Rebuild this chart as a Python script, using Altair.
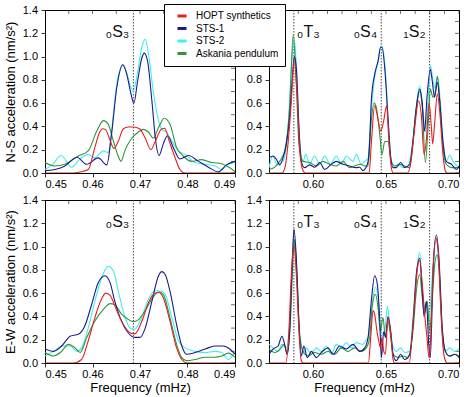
import altair as alt
import pandas as pd

FONT = "Liberation Sans"

SERIES = ["HOPT synthetics", "STS-1", "STS-2", "Askania pendulum"]
COLORS = ["#e3201f", "#1b1b8c", "#42ecf0", "#2f953a"]
# later entries are painted on top
DRAW_ORDER = ["STS-2", "Askania pendulum", "STS-1", "HOPT synthetics"]

# ---------------- N-S component, 0.45-0.49 mHz ----------------
ns_lo_hopt = [(0.4500, 0.0), (0.4560, 0.0), (0.4575, 0.01), (0.4591, 0.03), (0.4605, 0.22),
              (0.4615, 0.35), (0.4621, 0.38), (0.4628, 0.37), (0.4637, 0.28), (0.4645, 0.21),
              (0.4654, 0.27), (0.4665, 0.38), (0.4675, 0.395), (0.4686, 0.395), (0.4699, 0.38),
              (0.4711, 0.30), (0.4723, 0.20), (0.4732, 0.27), (0.4746, 0.38), (0.4752, 0.385),
              (0.4761, 0.28), (0.4774, 0.13), (0.4784, 0.03), (0.4795, 0.0), (0.4900, 0.0)]
ns_lo_sts1 = [(0.4500, 0.02), (0.4521, 0.03), (0.4542, 0.06), (0.4567, 0.135), (0.4588, 0.075),
              (0.4612, 0.13), (0.4630, 0.07), (0.4640, 0.33), (0.4651, 0.73), (0.4664, 0.93),
              (0.4672, 0.85), (0.4681, 0.68), (0.4687, 0.60), (0.4695, 0.79), (0.4704, 0.99),
              (0.4709, 1.03), (0.4716, 0.96), (0.4725, 0.62), (0.4733, 0.275), (0.4740, 0.15),
              (0.4749, 0.25), (0.4758, 0.32), (0.4770, 0.22), (0.4784, 0.12), (0.4802, 0.15),
              (0.4823, 0.10), (0.4844, 0.05), (0.4865, 0.01), (0.4882, 0.07), (0.4900, 0.10)]
ns_lo_sts2 = [(0.4500, 0.03), (0.4515, 0.07), (0.4534, 0.15), (0.4556, 0.05), (0.4576, 0.13),
              (0.4591, 0.16), (0.4604, 0.13), (0.4623, 0.19), (0.4633, 0.175), (0.4640, 0.36),
              (0.4651, 0.76), (0.4664, 0.93), (0.4672, 0.86), (0.4679, 0.76), (0.4686, 0.70),
              (0.4693, 0.82), (0.4704, 1.08), (0.4711, 1.15), (0.4718, 1.02), (0.4728, 0.70),
              (0.4739, 0.45), (0.4746, 0.375), (0.4756, 0.35), (0.4767, 0.275), (0.4781, 0.19),
              (0.4795, 0.16), (0.4816, 0.09), (0.4837, 0.075), (0.4858, 0.06), (0.4872, 0.03),
              (0.4886, 0.075), (0.4900, 0.09)]
ns_lo_ask = [(0.4500, 0.09), (0.4521, 0.06), (0.4542, 0.075), (0.4570, 0.146), (0.4591, 0.19),
             (0.4609, 0.36), (0.4623, 0.45), (0.4633, 0.42), (0.4644, 0.275), (0.4654, 0.146),
             (0.4660, 0.10), (0.4668, 0.19), (0.4681, 0.29), (0.4696, 0.35), (0.4707, 0.375),
             (0.4718, 0.35), (0.4728, 0.30), (0.4739, 0.39), (0.4751, 0.47), (0.4763, 0.42),
             (0.4777, 0.22), (0.4791, 0.146), (0.4809, 0.10), (0.4830, 0.115), (0.4851, 0.09),
             (0.4872, 0.08), (0.4889, 0.045), (0.4900, 0.01)]

# ---------------- N-S component, 0.57-0.70 mHz ----------------
ns_hi_hopt = [(0.5700, 0.0), (0.5790, 0.0), (0.5810, 0.05), (0.5830, 0.25), (0.5853, 0.62),
              (0.5871, 0.97), (0.5892, 0.68), (0.5910, 0.19), (0.5933, 0.02), (0.5950, 0.0),
              (0.6385, 0.0), (0.6400, 0.25), (0.6423, 0.58), (0.6440, 0.50), (0.6465, 0.36),
              (0.6485, 0.45), (0.6505, 0.58), (0.6519, 0.30), (0.6537, 0.046), (0.6549, 0.0),
              (0.6650, 0.0), (0.6674, 0.13), (0.6697, 0.39), (0.6724, 0.62), (0.6742, 0.50),
              (0.6761, 0.16), (0.6776, 0.27), (0.6795, 0.60), (0.6811, 0.39), (0.6820, 0.25),
              (0.6833, 0.42), (0.6852, 0.68), (0.6868, 0.53), (0.6890, 0.16), (0.6906, 0.02),
              (0.6920, 0.0), (0.7000, 0.0)]
ns_hi_sts1 = [(0.5700, 0.13), (0.5727, 0.146), (0.5750, 0.12), (0.5773, 0.07), (0.5796, 0.13),
              (0.5819, 0.25), (0.5841, 0.475), (0.5860, 0.82), (0.5873, 1.00), (0.5887, 0.90),
              (0.5905, 0.39), (0.5921, 0.10), (0.5944, 0.046), (0.5978, 0.07), (0.6012, 0.05),
              (0.6047, 0.09), (0.6081, 0.03), (0.6126, 0.075), (0.6161, 0.10), (0.6206, 0.075),
              (0.6252, 0.06), (0.6297, 0.046), (0.6320, 0.05), (0.6343, 0.02), (0.6360, 0.04),
              (0.6378, 0.10), (0.6390, 0.30), (0.6400, 0.62), (0.6423, 0.85), (0.6446, 0.96),
              (0.6464, 1.08), (0.6473, 1.08), (0.6492, 0.90), (0.6514, 0.475), (0.6533, 0.13),
              (0.6549, 0.046), (0.6571, 0.046), (0.6601, 0.09), (0.6628, 0.046), (0.6663, 0.075),
              (0.6685, 0.27), (0.6708, 0.56), (0.6731, 0.72), (0.6747, 0.62), (0.6765, 0.36),
              (0.6781, 0.65), (0.6804, 0.89), (0.6817, 0.79), (0.6833, 0.65), (0.6852, 0.78),
              (0.6868, 0.62), (0.6890, 0.27), (0.6913, 0.10), (0.6948, 0.075), (0.6982, 0.03),
              (0.7000, 0.06)]
ns_hi_sts2 = [(0.5700, 0.046), (0.5727, 0.146), (0.5755, 0.075), (0.5796, 0.10), (0.5830, 0.39),
              (0.5853, 0.90), (0.5871, 1.16), (0.5887, 0.93), (0.5910, 0.27), (0.5933, 0.10),
              (0.5951, 0.16), (0.5978, 0.075), (0.6012, 0.146), (0.6047, 0.075), (0.6081, 0.146),
              (0.6120, 0.075), (0.6161, 0.146), (0.6195, 0.075), (0.6229, 0.146), (0.6275, 0.10),
              (0.6297, 0.16), (0.6332, 0.075), (0.6355, 0.10), (0.6378, 0.13), (0.6396, 0.475),
              (0.6423, 0.82), (0.6446, 0.95), (0.6464, 1.09), (0.6476, 1.08), (0.6496, 0.88),
              (0.6519, 0.39), (0.6537, 0.10), (0.6560, 0.06), (0.6583, 0.075), (0.6617, 0.046),
              (0.6651, 0.06), (0.6678, 0.22), (0.6704, 0.53), (0.6731, 0.75), (0.6749, 0.59),
              (0.6770, 0.35), (0.6788, 0.62), (0.6806, 0.92), (0.6822, 0.79), (0.6838, 0.73),
              (0.6852, 0.83), (0.6870, 0.65), (0.6890, 0.30), (0.6913, 0.10), (0.6936, 0.155),
              (0.6959, 0.10), (0.6993, 0.06), (0.7000, 0.06)]
ns_hi_ask = [(0.5700, 0.03), (0.5739, 0.05), (0.5773, 0.10), (0.5807, 0.19), (0.5841, 0.56),
             (0.5866, 1.19), (0.5887, 0.76), (0.5905, 0.25), (0.5933, 0.10), (0.5978, 0.09),
             (0.6024, 0.06), (0.6069, 0.10), (0.6115, 0.075), (0.6161, 0.06), (0.6206, 0.10),
             (0.6252, 0.046), (0.6320, 0.075), (0.6366, 0.06), (0.6378, 0.06), (0.6396, 0.39),
             (0.6419, 0.60), (0.6435, 0.56), (0.6458, 0.33), (0.6473, 0.16), (0.6492, 0.27),
             (0.6514, 0.27), (0.6537, 0.10), (0.6560, 0.06), (0.6594, 0.075), (0.6628, 0.06),
             (0.6663, 0.046), (0.6685, 0.27), (0.6708, 0.56), (0.6731, 0.70), (0.6749, 0.56),
             (0.6770, 0.09), (0.6788, 0.39), (0.6804, 0.72), (0.6822, 0.65), (0.6838, 0.70),
             (0.6852, 0.83), (0.6868, 0.62), (0.6890, 0.22), (0.6913, 0.075), (0.6948, 0.046),
             (0.7000, 0.046)]

# ---------------- E-W component, 0.45-0.49 mHz ----------------
ew_lo_hopt = [(0.4500, 0.0), (0.4560, 0.0), (0.4577, 0.03), (0.4591, 0.19), (0.4605, 0.39),
              (0.4619, 0.55), (0.4628, 0.60), (0.4637, 0.58), (0.4651, 0.45), (0.4665, 0.33),
              (0.4679, 0.26), (0.4689, 0.25), (0.4704, 0.36), (0.4718, 0.52), (0.4732, 0.60),
              (0.4740, 0.605), (0.4749, 0.56), (0.4763, 0.36), (0.4777, 0.13), (0.4788, 0.03),
              (0.4800, 0.0), (0.4900, 0.0)]
ew_lo_sts1 = [(0.4500, 0.12), (0.4518, 0.10), (0.4535, 0.146), (0.4553, 0.23), (0.4570, 0.246),
              (0.4584, 0.32), (0.4598, 0.50), (0.4612, 0.69), (0.4626, 0.75), (0.4637, 0.69),
              (0.4647, 0.53), (0.4661, 0.36), (0.4675, 0.26), (0.4689, 0.22), (0.4700, 0.22),
              (0.4711, 0.30), (0.4725, 0.53), (0.4739, 0.75), (0.4746, 0.785), (0.4753, 0.76),
              (0.4763, 0.62), (0.4777, 0.33), (0.4788, 0.146), (0.4798, 0.075), (0.4816, 0.09),
              (0.4837, 0.12), (0.4858, 0.146), (0.4875, 0.146), (0.4889, 0.12), (0.4900, 0.075)]
ew_lo_sts2 = [(0.4500, 0.06), (0.4518, 0.10), (0.4535, 0.146), (0.4553, 0.146), (0.4567, 0.10),
              (0.4577, 0.13), (0.4591, 0.30), (0.4605, 0.53), (0.4619, 0.73), (0.4633, 0.83),
              (0.4644, 0.79), (0.4654, 0.62), (0.4668, 0.40), (0.4679, 0.30), (0.4689, 0.29),
              (0.4704, 0.40), (0.4718, 0.55), (0.4732, 0.62), (0.4742, 0.62), (0.4753, 0.59),
              (0.4767, 0.39), (0.4781, 0.19), (0.4795, 0.13), (0.4816, 0.10), (0.4837, 0.09),
              (0.4858, 0.10), (0.4872, 0.09), (0.4886, 0.03), (0.4900, 0.10)]
ew_lo_ask = [(0.4500, 0.09), (0.4518, 0.06), (0.4535, 0.10), (0.4549, 0.16), (0.4563, 0.13),
             (0.4574, 0.09), (0.4588, 0.22), (0.4605, 0.36), (0.4623, 0.46), (0.4637, 0.51),
             (0.4647, 0.50), (0.4661, 0.42), (0.4675, 0.375), (0.4686, 0.355), (0.4696, 0.37),
             (0.4711, 0.45), (0.4725, 0.55), (0.4739, 0.61), (0.4749, 0.59), (0.4763, 0.39),
             (0.4777, 0.16), (0.4788, 0.046), (0.4798, 0.02), (0.4816, 0.03), (0.4837, 0.05),
             (0.4858, 0.05), (0.4872, 0.06), (0.4886, 0.085), (0.4900, 0.05)]

# ---------------- E-W component, 0.57-0.70 mHz ----------------
ew_hi_hopt = [(0.5700, 0.0), (0.5815, 0.0), (0.5835, 0.25), (0.5853, 0.76), (0.5871, 1.02),
              (0.5887, 0.76), (0.5905, 0.27), (0.5921, 0.02), (0.5935, 0.0), (0.6380, 0.0),
              (0.6396, 0.22), (0.6412, 0.45), (0.6423, 0.42), (0.6439, 0.27), (0.6451, 0.19),
              (0.6464, 0.13), (0.6473, 0.22), (0.6485, 0.10), (0.6496, 0.075), (0.6514, 0.39),
              (0.6533, 0.25), (0.6549, 0.03), (0.6560, 0.0), (0.6660, 0.0), (0.6678, 0.22),
              (0.6697, 0.53), (0.6720, 0.85), (0.6731, 0.88), (0.6747, 0.70), (0.6765, 0.42),
              (0.6781, 0.22), (0.6795, 0.046), (0.6806, 0.22), (0.6822, 0.79), (0.6840, 1.08),
              (0.6856, 0.99), (0.6875, 0.475), (0.6891, 0.13), (0.6907, 0.02), (0.6920, 0.0),
              (0.7000, 0.0)]
ew_hi_sts1 = [(0.5700, 0.075), (0.5727, 0.12), (0.5762, 0.146), (0.5789, 0.23), (0.5807, 0.16),
              (0.5825, 0.075), (0.5841, 0.27), (0.5860, 0.90), (0.5871, 1.15), (0.5887, 0.90),
              (0.5905, 0.33), (0.5921, 0.06), (0.5939, 0.146), (0.5962, 0.046), (0.5990, 0.10),
              (0.6024, 0.046), (0.6058, 0.09), (0.6104, 0.13), (0.6138, 0.075), (0.6183, 0.146),
              (0.6229, 0.12), (0.6275, 0.16), (0.6320, 0.10), (0.6355, 0.13), (0.6378, 0.22),
              (0.6400, 0.53), (0.6423, 0.75), (0.6441, 0.68), (0.6457, 0.39), (0.6469, 0.046),
              (0.6485, 0.27), (0.6498, 0.22), (0.6514, 0.40), (0.6533, 0.27), (0.6549, 0.075),
              (0.6571, 0.02), (0.6601, 0.075), (0.6628, 0.03), (0.6663, 0.075), (0.6685, 0.33),
              (0.6708, 0.76), (0.6731, 0.90), (0.6747, 0.65), (0.6761, 0.40), (0.6777, 0.53),
              (0.6793, 0.16), (0.6804, 0.046), (0.6822, 0.76), (0.6845, 1.10), (0.6863, 0.90),
              (0.6884, 0.33), (0.6907, 0.10), (0.6936, 0.06), (0.6971, 0.075), (0.7000, 0.046)]
ew_hi_sts2 = [(0.5700, 0.16), (0.5727, 0.13), (0.5762, 0.10), (0.5789, 0.16), (0.5819, 0.13),
              (0.5841, 0.33), (0.5860, 0.82), (0.5871, 1.06), (0.5887, 0.82), (0.5910, 0.22),
              (0.5928, 0.075), (0.5955, 0.13), (0.5990, 0.075), (0.6024, 0.13), (0.6058, 0.10),
              (0.6092, 0.146), (0.6126, 0.075), (0.6161, 0.16), (0.6195, 0.13), (0.6229, 0.175),
              (0.6263, 0.13), (0.6297, 0.175), (0.6343, 0.16), (0.6366, 0.20), (0.6378, 0.22),
              (0.6400, 0.45), (0.6428, 0.65), (0.6446, 0.56), (0.6462, 0.30), (0.6476, 0.25),
              (0.6492, 0.27), (0.6510, 0.49), (0.6526, 0.33), (0.6544, 0.16), (0.6571, 0.10),
              (0.6601, 0.13), (0.6628, 0.09), (0.6663, 0.10), (0.6685, 0.39), (0.6708, 0.76),
              (0.6731, 0.95), (0.6749, 0.65), (0.6765, 0.475), (0.6781, 0.53), (0.6795, 0.36),
              (0.6811, 0.62), (0.6829, 0.96), (0.6845, 1.05), (0.6863, 0.82), (0.6884, 0.27),
              (0.6907, 0.10), (0.6936, 0.13), (0.6971, 0.10), (0.7000, 0.12)]
ew_hi_ask = [(0.5700, 0.12), (0.5739, 0.09), (0.5784, 0.13), (0.5803, 0.16), (0.5825, 0.075),
             (0.5848, 0.39), (0.5864, 0.90), (0.5873, 1.06), (0.5889, 0.82), (0.5910, 0.25),
             (0.5933, 0.10), (0.5967, 0.06), (0.6012, 0.09), (0.6058, 0.075), (0.6104, 0.10),
             (0.6149, 0.075), (0.6195, 0.13), (0.6240, 0.10), (0.6286, 0.13), (0.6332, 0.10),
             (0.6366, 0.13), (0.6389, 0.22), (0.6405, 0.475), (0.6428, 0.59), (0.6446, 0.475),
             (0.6462, 0.27), (0.6480, 0.39), (0.6496, 0.22), (0.6514, 0.36), (0.6533, 0.22),
             (0.6549, 0.075), (0.6583, 0.046), (0.6617, 0.06), (0.6651, 0.046), (0.6685, 0.27),
             (0.6708, 0.62), (0.6731, 0.76), (0.6749, 0.56), (0.6765, 0.42), (0.6783, 0.53),
             (0.6799, 0.27), (0.6815, 0.50), (0.6834, 0.85), (0.6850, 0.93), (0.6868, 0.73),
             (0.6886, 0.27), (0.6907, 0.10), (0.6936, 0.06), (0.6971, 0.075), (0.7000, 0.06)]

# mode labels (₀S₃ etc.) and their centre frequencies in mHz
MODES_LO = [("₀S₃", 0.4686)]
MODES_HI = [("₀T₃", 0.5870), ("₀S₄", 0.6468), ("₁S₂", 0.6799)]
LABEL_RIGHT_OF_LINE = {"₀T₃"}

X_LO = [0.45, 0.49]
X_HI = [0.57, 0.70]
XLAB_LO = [0.45, 0.46, 0.47, 0.48, 0.49]
XLAB_HI = [0.60, 0.65, 0.70]
XTICK_LO = [0.45, 0.455, 0.46, 0.465, 0.47, 0.475, 0.48, 0.485, 0.49]
XTICK_HI = [0.57, 0.58, 0.59, 0.60, 0.61, 0.62, 0.63, 0.64, 0.65, 0.66, 0.67, 0.68, 0.69, 0.70]
Y_DOMAIN = [0, 1.4]
YLAB = [0, 0.2, 0.4, 0.6, 0.8, 1.0, 1.2, 1.4]
YLAB_UNDER_LEGEND = [0, 0.2, 0.4, 0.6, 0.8]
YTICK = [0, 0.1, 0.2, 0.3, 0.4, 0.5, 0.6, 0.7, 0.8, 0.9, 1.0, 1.1, 1.2, 1.3, 1.4]

W, H = 190, 163


def panel(curves, modes, xdom, xlab, xtick, ylab, ytitle, xtitle):
    rows = []
    for name in DRAW_ORDER:
        for f, a in curves[name]:
            rows.append({"series": name, "freq": f, "amp": a})
    df = pd.DataFrame(rows)
    xs = alt.Scale(domain=xdom, nice=False, zero=False)
    ys = alt.Scale(domain=Y_DOMAIN, nice=False)
    xaxis = alt.Axis(values=xlab, format=".2f", title=xtitle, tickSize=4, labelOverlap=False,
                     domain=False, labelPadding=1, titlePadding=2)
    yaxis = alt.Axis(values=ylab, format=".1f", title=ytitle, tickSize=4, labelOverlap=False,
                     domain=False, labelPadding=3.5, titlePadding=5)

    lines = alt.Chart(df).mark_line(interpolate="monotone", strokeWidth=1.1, clip=True).encode(
        x=alt.X("freq:Q", scale=xs, axis=xaxis),
        y=alt.Y("amp:Q", scale=ys, axis=yaxis),
        color=alt.Color("series:N", scale=alt.Scale(domain=SERIES, range=COLORS),
                        legend=alt.Legend(title=None, orient="none", legendX=119, legendY=-6)),
    )

    # short inward frame ticks hanging from the top edge and the right edge
    top_ticks = alt.Chart(pd.DataFrame({"freq": xtick})).mark_tick(
        orient="vertical", size=8, thickness=0.8, color="black", clip=True
    ).encode(x=alt.X("freq:Q", scale=xs, axis=xaxis),
             y=alt.YDatum(Y_DOMAIN[1], type="quantitative", scale=ys, axis=yaxis))
    right_ticks = alt.Chart(pd.DataFrame({"amp": YTICK})).mark_tick(
        orient="horizontal", size=8, thickness=0.8, color="black", clip=True
    ).encode(x=alt.XDatum(xdom[1], type="quantitative", scale=xs, axis=xaxis),
             y=alt.Y("amp:Q", scale=ys, axis=yaxis))

    mdf = pd.DataFrame([{"label": m, "freq": f} for m, f in modes])
    rules = alt.Chart(mdf).mark_rule(color="#333333", strokeWidth=0.9, strokeDash=[1.5, 1.5]).encode(
        x=alt.X("freq:Q", scale=xs, axis=xaxis))
    texts = []
    for m, f in modes:
        right = m in LABEL_RIGHT_OF_LINE
        t = alt.Chart(mdf[mdf["label"] == m]).mark_text(
            align="left" if right else "right", baseline="alphabetic",
            dx=3 if right else -4, fontSize=16, font=FONT, color="#111111",
        ).encode(x=alt.X("freq:Q", scale=xs, axis=xaxis), y=alt.value(27), text="label:N")
        texts.append(t)
    return alt.layer(rules, top_ticks, right_ticks, lines, *texts).properties(width=W, height=H)


ytitle_ns = "N-S acceleration (nm/s²)"
ytitle_ew = "E-W acceleration (nm/s²)"

c_ns_lo = {"HOPT synthetics": ns_lo_hopt, "STS-1": ns_lo_sts1, "STS-2": ns_lo_sts2, "Askania pendulum": ns_lo_ask}
c_ns_hi = {"HOPT synthetics": ns_hi_hopt, "STS-1": ns_hi_sts1, "STS-2": ns_hi_sts2, "Askania pendulum": ns_hi_ask}
c_ew_lo = {"HOPT synthetics": ew_lo_hopt, "STS-1": ew_lo_sts1, "STS-2": ew_lo_sts2, "Askania pendulum": ew_lo_ask}
c_ew_hi = {"HOPT synthetics": ew_hi_hopt, "STS-1": ew_hi_sts1, "STS-2": ew_hi_sts2, "Askania pendulum": ew_hi_ask}

p1 = panel(c_ns_lo, MODES_LO, X_LO, XLAB_LO, XTICK_LO, YLAB, ytitle_ns, None)
p2 = panel(c_ns_hi, MODES_HI, X_HI, XLAB_HI, XTICK_HI, YLAB_UNDER_LEGEND, None, None)
p3 = panel(c_ew_lo, MODES_LO, X_LO, XLAB_LO, XTICK_LO, YLAB, ytitle_ew, "Frequency (mHz)")
p4 = panel(c_ew_hi, MODES_HI, X_HI, XLAB_HI, XTICK_HI, YLAB, None, "Frequency (mHz)")

chart = alt.concat(p1, p2, p3, p4, columns=2, spacing={"row": 27, "column": 34},
                   bounds="flush").properties(
    padding={"left": 3, "top": 3, "right": 5, "bottom": 2},
).configure(
    background="white",
).configure_view(
    stroke="black", strokeWidth=1
).configure_axis(
    labelFont=FONT, titleFont=FONT, labelFontSize=11, titleFontSize=13,
    titleFontWeight="normal", labelColor="black", titleColor="black",
    tickColor="black", tickWidth=0.8, grid=False, labelOverlap=False,
).configure_legend(
    labelFont=FONT, labelFontSize=10, labelColor="black",
    strokeColor="black", fillColor="white", padding=6, cornerRadius=0,
    symbolType="stroke", symbolStrokeWidth=3, symbolSize=81, symbolOffset=6,
    rowPadding=0.5, labelOffset=8,
)

chart.save("out.html", embed_options={"renderer": "svg", "actions": False})
